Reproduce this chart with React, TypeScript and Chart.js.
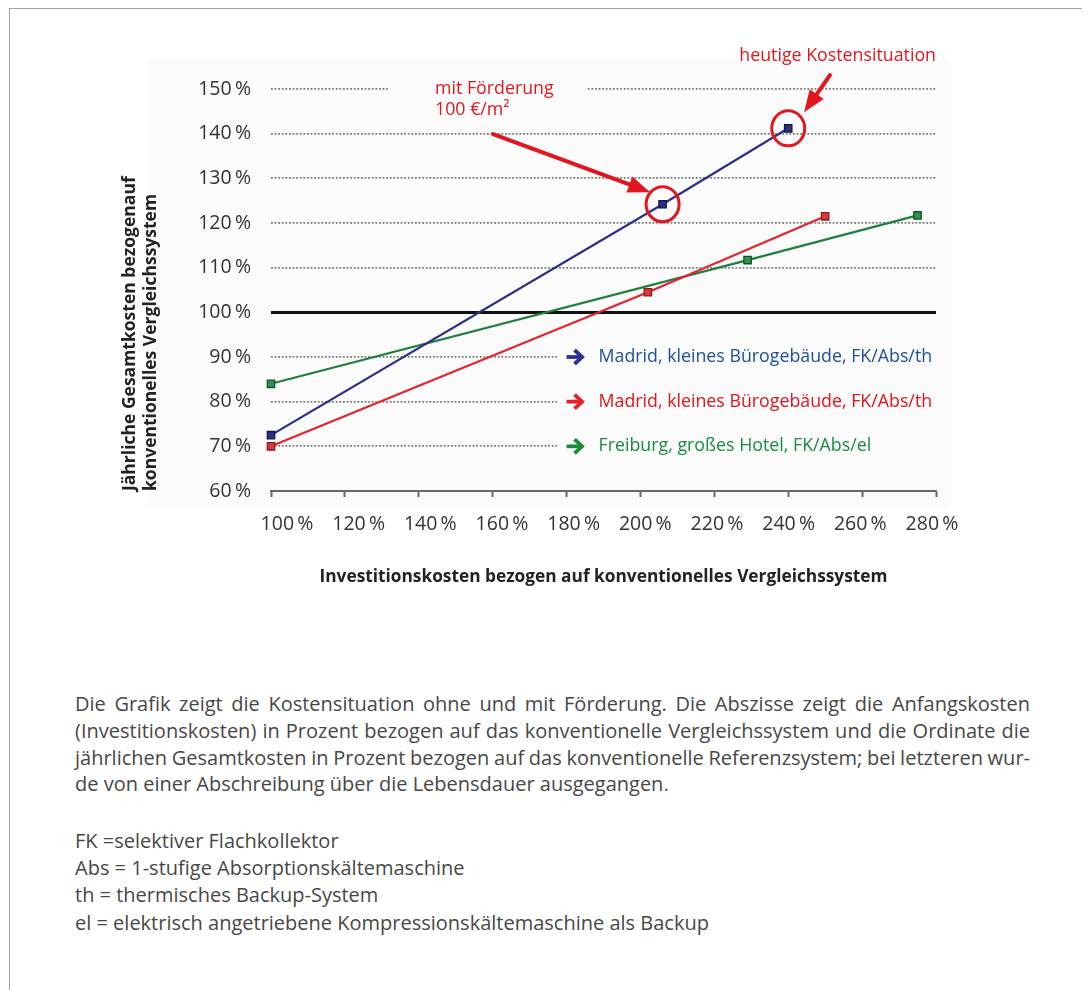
import React, { useEffect, useRef } from 'react';
import { Chart, registerables } from 'chart.js';

Chart.register(...registerables);

// ---------- data ----------
const xTickValues = [100, 120, 140, 160, 180, 200, 220, 240, 260, 280];
const yTickValues = [60, 70, 80, 90, 100, 110, 120, 130, 140, 150];

const seriesLabels = [
  'Madrid, kleines Bürogebäude, FK/Abs/th',
  'Madrid, kleines Bürogebäude, FK/Abs/th',
  'Freiburg, großes Hotel, FK/Abs/el',
];
const madridBlueX = [100, 206, 240];
const madridBlueY = [72.5, 124.2, 141.2];
const madridRedX = [100, 202, 250];
const madridRedY = [70, 104.5, 121.5];
const freiburgX = [100, 229, 275];
const freiburgY = [84, 111.7, 121.7];

const xAxisTitle = 'Investitionskosten bezogen auf konventionelles Vergleichssystem';
const yAxisTitle = ['Jährliche Gesamtkosten bezogenauf', 'konventionelles Vergleichssystem'];
const noteToday = 'heutige Kostensituation';
const noteSubsidy = ['mit Förderung', '100 €/m²'];

const paragraphLines = [
  'Die Grafik zeigt die Kostensituation ohne und mit Förderung. Die Abszisse zeigt die Anfangskosten',
  '(Investitionskosten) in Prozent bezogen auf das konventionelle Vergleichssystem und die Ordinate die',
  'jährlichen Gesamtkosten in Prozent bezogen auf das konventionelle Referenzsystem; bei letzteren wur-',
];
const paragraphLast = 'de von einer Abschreibung über die Lebensdauer ausgegangen';
const glossaryLines = [
  'FK =selektiver Flachkollektor',
  'Abs = 1-stufige Absorptionskältemaschine',
  'th = thermisches Backup-System',
  'el = elektrisch angetriebene Kompressionskältemaschine als Backup',
];

// ---------- styles ----------
const FONT = "'Open Sans', 'DejaVu Sans', sans-serif";
const PLOT_BG = '#fbfbfb';
const NOTE_RED = '#e3161f';
const STYLES = [
  { line: '#2e2d88', point: '#2b2f7e', pointBorder: '#15154d', legend: '#1d4f9b', arrow: '#2e3192' },
  { line: '#e4232b', point: '#d8393b', pointBorder: '#8a1a1c', legend: '#e3131b', arrow: '#e4202a' },
  { line: '#1e7f3e', point: '#2a9450', pointBorder: '#0f5226', legend: '#1b8a41', arrow: '#1a8a3c' },
];

// annotation anchors (in data units of the chart)
const LEGEND_X = 180;
const LEGEND_Y = [90, 80, 70];
const NOTE_SUB_X = 144.4;
const NOTE_SUB_Y = 150;
const NOTE_TODAY_Y = 157.4;
const ARROW_SUB = { from: [160.1, 139.9], to: [202.6, 126.9] };
const ARROW_TODAY = { from: [251.3, 153.1], to: [244.3, 144.8] };

function toXY(xs: number[], ys: number[]) {
  return xs.map((x, i) => ({ x, y: ys[i] }));
}

function drawArrow(ctx: CanvasRenderingContext2D, x0: number, y0: number, x1: number, y1: number, color: string) {
  const ang = Math.atan2(y1 - y0, x1 - x0);
  const headLen = 22;
  const headHalf = 8.5;
  const bx = x1 - headLen * Math.cos(ang);
  const by = y1 - headLen * Math.sin(ang);
  ctx.save();
  ctx.strokeStyle = color;
  ctx.fillStyle = color;
  ctx.lineWidth = 4;
  ctx.lineCap = 'round';
  ctx.beginPath();
  ctx.moveTo(x0, y0);
  ctx.lineTo(bx + 2 * Math.cos(ang), by + 2 * Math.sin(ang));
  ctx.stroke();
  ctx.beginPath();
  ctx.moveTo(x1, y1);
  ctx.lineTo(bx + headHalf * Math.sin(ang), by - headHalf * Math.cos(ang));
  ctx.lineTo(bx - headHalf * Math.sin(ang), by + headHalf * Math.cos(ang));
  ctx.closePath();
  ctx.fill();
  ctx.restore();
}

function drawLegendArrow(ctx: CanvasRenderingContext2D, x: number, y: number, color: string) {
  ctx.save();
  ctx.strokeStyle = color;
  ctx.lineWidth = 3.8;
  ctx.lineJoin = 'miter';
  ctx.lineCap = 'butt';
  ctx.beginPath();
  ctx.moveTo(x, y);
  ctx.lineTo(x + 15, y);
  ctx.stroke();
  ctx.beginPath();
  ctx.moveTo(x + 8, y - 7);
  ctx.lineTo(x + 15.5, y);
  ctx.lineTo(x + 8, y + 7);
  ctx.stroke();
  ctx.restore();
}

const overlayPlugin = {
  id: 'overlay',
  beforeDraw(chart: any) {
    const { ctx, chartArea: a } = chart;
    ctx.save();
    ctx.fillStyle = PLOT_BG;
    ctx.fillRect(a.left - 124, a.top - 30, a.width + 138, a.height + 47);
    ctx.restore();
  },
  beforeDatasetsDraw(chart: any) {
    const { ctx, chartArea: a, scales } = chart;
    const xs = scales.x;
    const ys = scales.y;
    ctx.save();
    ctx.fillStyle = PLOT_BG;
    const lx = xs.getPixelForValue(LEGEND_X) - 9;
    LEGEND_Y.forEach((v) => {
      const py = ys.getPixelForValue(v);
      ctx.fillRect(lx, py - 4, a.right - lx + 3, 8);
    });
    const nx = xs.getPixelForValue(NOTE_SUB_X);
    const ny = ys.getPixelForValue(NOTE_SUB_Y);
    ctx.fillRect(nx - 47, ny - 4, 198, 8);
    ctx.restore();
  },
  afterDatasetsDraw(chart: any) {
    const { ctx, scales } = chart;
    const xs = scales.x;
    const ys = scales.y;
    const px = (v: number) => xs.getPixelForValue(v);
    const py = (v: number) => ys.getPixelForValue(v);

    // circles around the blue points
    const meta = chart.getDatasetMeta(0);
    [1, 2].forEach((i) => {
      const el = meta.data[i];
      ctx.save();
      ctx.strokeStyle = NOTE_RED;
      ctx.lineWidth = 3;
      ctx.beginPath();
      ctx.ellipse(el.x, el.y, 16.5, 17.5, 0, 0, Math.PI * 2);
      ctx.stroke();
      ctx.restore();
    });

    drawArrow(ctx, px(ARROW_SUB.from[0]), py(ARROW_SUB.from[1]), px(ARROW_SUB.to[0]), py(ARROW_SUB.to[1]), NOTE_RED);
    drawArrow(ctx, px(ARROW_TODAY.from[0]), py(ARROW_TODAY.from[1]), px(ARROW_TODAY.to[0]), py(ARROW_TODAY.to[1]), NOTE_RED);

    ctx.save();
    ctx.fillStyle = NOTE_RED;
    ctx.font = `17.8px ${FONT}`;
    ctx.textBaseline = 'middle';
    ctx.textAlign = 'left';
    ctx.fillText(noteSubsidy[0], px(NOTE_SUB_X), py(NOTE_SUB_Y));
    ctx.fillText(noteSubsidy[1], px(NOTE_SUB_X), py(NOTE_SUB_Y) + 21);
    ctx.textAlign = 'right';
    ctx.fillText(noteToday, chart.chartArea.right, py(NOTE_TODAY_Y));
    ctx.restore();

    // legend
    const lx = px(LEGEND_X);
    chart.data.datasets.forEach((ds: any, i: number) => {
      const y = py(LEGEND_Y[i]);
      drawLegendArrow(ctx, lx, y, STYLES[i].arrow);
      ctx.save();
      ctx.fillStyle = STYLES[i].legend;
      ctx.font = `17.8px ${FONT}`;
      ctx.textBaseline = 'middle';
      ctx.textAlign = 'left';
      ctx.fillText(ds.label, lx + 32, y);
      ctx.restore();
    });
  },
};

const pct = (v: any) => `${v}\u2009%`;

export default function App() {
  const ref = useRef<HTMLCanvasElement>(null);

  useEffect(() => {
    const series = [
      toXY(madridBlueX, madridBlueY),
      toXY(madridRedX, madridRedY),
      toXY(freiburgX, freiburgY),
    ];
    const chart = new Chart(ref.current as HTMLCanvasElement, {
      type: 'scatter',
      data: {
        datasets: series.map((data, i) => ({
          label: seriesLabels[i],
          data,
          showLine: true,
          borderColor: STYLES[i].line,
          borderWidth: 2.2,
          backgroundColor: STYLES[i].point,
          pointStyle: 'rect',
          pointRadius: 5.2,
          pointHoverRadius: 5.2,
          pointBorderColor: STYLES[i].pointBorder,
          pointBorderWidth: 1.3,
          clip: false as any,
        })),
      },
      options: {
        animation: false,
        responsive: false,
        devicePixelRatio: 1,
        layout: { padding: { left: 120, top: 89, right: 154, bottom: 33 } },
        plugins: { legend: { display: false }, tooltip: { enabled: false } },
        scales: {
          x: {
            type: 'linear',
            position: 'bottom',
            weight: 0,
            min: 100,
            max: 280,
            afterBuildTicks: (s: any) => { s.ticks = xTickValues.map((v) => ({ value: v })); },
            afterFit: (s: any) => { s.height = 6; },
            ticks: { display: false },
            grid: { drawOnChartArea: false, drawTicks: true, tickLength: 6, tickColor: '#666', tickWidth: 2, color: '#666' },
            border: { display: true, color: '#6a6a6a', width: 2 },
          },
          xl: {
            type: 'linear',
            position: 'bottom',
            weight: 1,
            min: 95.535,
            max: 281.12,
            afterBuildTicks: (s: any) => { s.ticks = xTickValues.map((v) => ({ value: v })); },
            afterFit: (s: any) => { s.height = 90; },
            ticks: {
              callback: pct,
              autoSkip: false,
              maxRotation: 0,
              padding: 8,
              color: '#333',
              font: { family: FONT, size: 19.5 },
            },
            grid: { display: false },
            border: { display: false },
            title: {
              display: true,
              text: xAxisTitle,
              color: '#222',
              padding: 0,
              font: { family: FONT, size: 17.3, weight: 'bold' },
            },
          },
          y: {
            type: 'linear',
            min: 60,
            max: 150,
            afterBuildTicks: (s: any) => { s.ticks = yTickValues.map((v) => ({ value: v })); },
            afterFit: (s: any) => { s.width = 151; },
            ticks: {
              callback: pct,
              padding: 20,
              color: '#333',
              font: { family: FONT, size: 19.5 },
            },
            grid: {
              drawTicks: false,
              color: (c: any) => (c.tick && c.tick.value === 100 ? '#111' : c.tick && c.tick.value === 60 ? 'rgba(0,0,0,0)' : '#7a7a7a'),
              lineWidth: (c: any) => (c.tick && c.tick.value === 100 ? 3 : 1.8),
            },
            border: {
              display: false,
              dash: (c: any) => (c.tick && c.tick.value === 100 ? [] : [1.8, 1.8]),
            } as any,
            title: {
              display: true,
              text: yAxisTitle,
              align: 'start',
              color: '#222',
              padding: 0,
              font: { family: FONT, size: 17.5, weight: 'bold' },
            },
          },
        },
      } as any,
      plugins: [overlayPlugin],
    });
    return () => chart.destroy();
  }, []);

  const lineStyle: React.CSSProperties = {
    textAlign: 'justify',
    textAlignLast: 'justify',
    whiteSpace: 'nowrap',
    wordSpacing: '-3px',
  } as any;

  return (
    <div style={{ position: 'relative', width: 1082, height: 982, overflow: 'hidden', fontFamily: FONT }}>
      <div
        style={{
          position: 'absolute', left: 1, top: 0, width: 1080, height: 1000,
          border: '1px solid #a3a3a3', boxSizing: 'border-box',
        }}
      />
      <canvas
        ref={ref}
        width={1090}
        height={620}
        style={{ position: 'absolute', left: -8, top: -8, width: 1090, height: 620 }}
      />
      <div style={{ position: 'absolute', left: 67, top: 683, width: 955, fontSize: 20, lineHeight: '26.8px', color: '#474747' }}>
        {paragraphLines.map((l, i) => (
          <div key={i} style={lineStyle}>{l}</div>
        ))}
        <div style={{ whiteSpace: 'nowrap' }}>
          {paragraphLast}<span style={{ color: '#3355aa' }}>.</span>
        </div>
      </div>
      <div style={{ position: 'absolute', left: 67, top: 819, width: 955, fontSize: 20, lineHeight: '27.2px', color: '#474747' }}>
        {glossaryLines.map((l, i) => (
          <div key={i} style={{ whiteSpace: 'nowrap' }}>{l}</div>
        ))}
      </div>
    </div>
  );
}
